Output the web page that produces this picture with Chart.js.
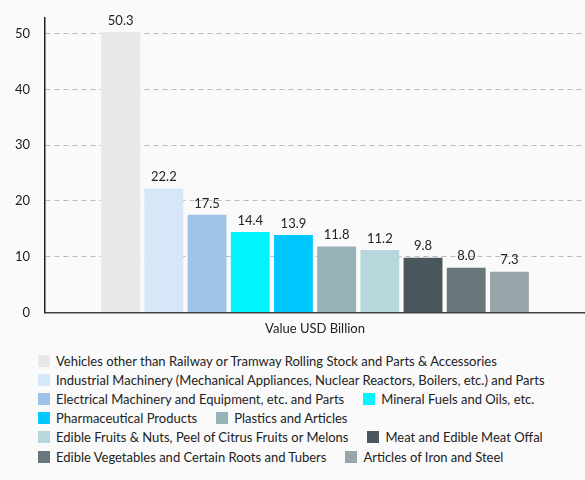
<!DOCTYPE html>
<html>
<head>
<meta charset="utf-8">
<script src="https://cdn.jsdelivr.net/npm/chart.js@4"></script>
<style>
  html, body { margin: 0; padding: 0; background: #fafafa; }
  body { width: 585px; height: 480px; font-family: Lato, sans-serif; }
  #wrap { position: relative; width: 585px; height: 346px; }
  #legend ul { list-style: none; margin: 0; padding: 5px 0 0 38px; display: flex; flex-wrap: wrap; width: 540px; }
  #legend li { display: flex; align-items: center; height: 19.2px; margin-right: 19px; font-size: 13px; color: #222; white-space: nowrap; }
  #legend li span { display: inline-block; width: 12px; height: 12px; margin-right: 6px; }
</style>
</head>
<body>
<div id="wrap"><canvas id="chart"></canvas></div>
<div id="legend"></div>
<script>
// Export categories and values (USD billion)
const categoryLabel = ['Value USD Billion'];
const products = [
  'Vehicles other than Railway or Tramway Rolling Stock and Parts & Accessories',
  'Industrial Machinery (Mechanical Appliances, Nuclear Reactors, Boilers, etc.) and Parts',
  'Electrical Machinery and Equipment, etc. and Parts',
  'Mineral Fuels and Oils, etc.',
  'Pharmaceutical Products',
  'Plastics and Articles',
  'Edible Fruits & Nuts, Peel of Citrus Fruits or Melons',
  'Meat and Edible Meat Offal',
  'Edible Vegetables and Certain Roots and Tubers',
  'Articles of Iron and Steel'
];
const values = [50.3, 22.2, 17.5, 14.4, 13.9, 11.8, 11.2, 9.8, 8.0, 7.3];
const colors = ['#e8e8e8', '#d6e7f8', '#9dc3e6', '#00f5ff', '#00c8ff',
                '#95b2b7', '#b8d7dd', '#4a575c', '#68777b', '#98a5a9'];
const yTicks = [0, 10, 20, 30, 40, 50];

// labels above each bar
const valueLabels = {
  id: 'valueLabels',
  afterDatasetsDraw(chart) {
    const ctx = chart.ctx;
    ctx.save();
    ctx.font = '13px Lato';
    ctx.fillStyle = '#222';
    ctx.textAlign = 'center';
    ctx.textBaseline = 'bottom';
    chart.data.datasets.forEach((ds, i) => {
      chart.getDatasetMeta(i).data.forEach((bar, j) => {
        ctx.fillText(ds.data[j].toFixed(1), bar.x, bar.y - 5);
      });
    });
    ctx.restore();
  }
};

// html legend below the canvas
const htmlLegend = {
  id: 'htmlLegend',
  afterUpdate(chart) {
    const box = document.getElementById('legend');
    box.innerHTML = '';
    const ul = document.createElement('ul');
    const items = chart.options.plugins.legend.labels.generateLabels(chart);
    items.forEach(item => {
      const li = document.createElement('li');
      const sw = document.createElement('span');
      sw.style.background = item.fillStyle;
      li.appendChild(sw);
      li.appendChild(document.createTextNode(item.text));
      ul.appendChild(li);
    });
    box.appendChild(ul);
  }
};

const ctx = document.getElementById('chart').getContext('2d');

const chart = new Chart(ctx, {
  type: 'bar',
  data: {
    labels: categoryLabel,
    datasets: products.map((p, i) => ({
      label: p,
      data: [values[i]],
      backgroundColor: colors[i],
      borderWidth: 0
    }))
  },
  options: {
    responsive: true,
    maintainAspectRatio: false,
    animation: false,
    layout: { padding: { top: 18, left: 0, right: 0, bottom: 0 } },
    scales: {
      x: {
        grid: { display: false, drawTicks: false },
        border: { color: '#444', width: 1.5 },
        ticks: { color: '#222', font: { family: 'Lato', size: 13 }, padding: 9 }
      },
      y: {
        min: 0,
        max: 52.8,
        afterBuildTicks(scale) {
          scale.ticks = yTicks.map(v => ({ value: v }));
        },
        afterFit(scale) {
          // tick padding should not push the plot down
          scale.paddingTop = 0;
          scale.paddingBottom = 0;
        },
        grid: {
          color: (c) => c.tick && c.tick.value === 0 ? 'rgba(0,0,0,0)' : '#bbb',
          drawTicks: false
        },
        border: { color: '#222', width: 1.5, dash: [5, 4] },
        ticks: { color: '#222', font: { family: 'Lato', size: 13 }, padding: 15 }
      }
    },
    plugins: {
      legend: { display: false },
      tooltip: { enabled: false }
    }
  },
  plugins: [valueLabels, htmlLegend]
});
</script>
</body>
</html>
